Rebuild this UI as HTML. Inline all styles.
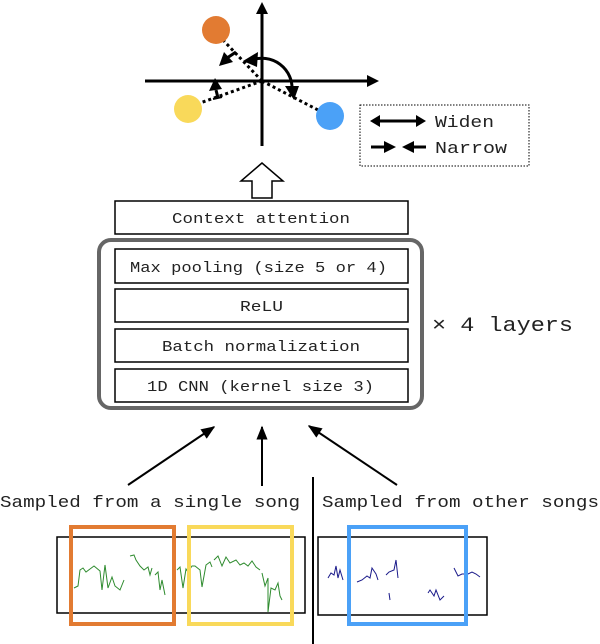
<!DOCTYPE html>
<html><head><meta charset="utf-8"><style>
html,body{margin:0;padding:0;background:#fff;}
svg{display:block;}
text{font-family:"Liberation Mono",monospace;fill:#222;}
</style></head><body>
<svg width="600" height="644" viewBox="0 0 600 644" xmlns="http://www.w3.org/2000/svg">
<defs>
<marker id="sm" viewBox="0 0 10 10" refX="9" refY="5" markerWidth="7" markerHeight="7" orient="auto"><path d="M0,1 L10,5 L0,9 z" fill="#000"/></marker>
</defs>
<line x1="262" y1="146" x2="262" y2="8" stroke="#000" stroke-width="3"/>
<path d="M262,2 L256,14 L268,14 z" fill="#000"/>
<line x1="145" y1="81" x2="372" y2="81" stroke="#000" stroke-width="3"/>
<path d="M379,81 L367,75 L367,87 z" fill="#000"/>
<g stroke="#000" stroke-width="3" stroke-dasharray="3,3">
<line x1="262" y1="81" x2="223" y2="40"/>
<line x1="262" y1="81" x2="200" y2="103"/>
<line x1="262" y1="81" x2="318" y2="110"/>
</g>
<circle cx="216" cy="30" r="14" fill="#e27b32"/>
<circle cx="188" cy="109" r="14" fill="#f9d95a"/>
<circle cx="330" cy="116" r="14" fill="#4ba1f7"/>
<path d="M252,60 A30,30 0 0 1 292,90" fill="none" stroke="#000" stroke-width="3"/>
<path d="M243,61 L258,52 L257,67 z" fill="#000"/>
<path d="M294,100 L285,86 L299,86 z" fill="#000"/>
<line x1="236" y1="52" x2="227" y2="58" stroke="#000" stroke-width="3"/>
<path d="M219,66 L224,52 L233,62 z" fill="#000"/>
<line x1="218" y1="98" x2="216" y2="90" stroke="#000" stroke-width="3"/>
<line x1="213" y1="99" x2="222" y2="97" stroke="#000" stroke-width="2"/>
<path d="M215,78 L209,91 L222,89 z" fill="#000"/>
<rect x="360" y="105" width="169" height="61" fill="none" stroke="#000" stroke-width="1" stroke-dasharray="1.5,1.5"/>
<line x1="378" y1="121" x2="418" y2="121" stroke="#000" stroke-width="3"/>
<path d="M370,121 L380,115 L380,127 z" fill="#000"/>
<path d="M426,121 L416,115 L416,127 z" fill="#000"/>
<text x="435" y="127" font-size="17" textLength="59" lengthAdjust="spacingAndGlyphs">Widen</text>
<line x1="371" y1="147" x2="385" y2="147" stroke="#000" stroke-width="3"/>
<path d="M396,147 L384,141 L384,153 z" fill="#000"/>
<line x1="412" y1="147" x2="426" y2="147" stroke="#000" stroke-width="3"/>
<path d="M402,147 L414,141 L414,153 z" fill="#000"/>
<text x="435" y="153" font-size="17" textLength="72" lengthAdjust="spacingAndGlyphs">Narrow</text>
<path d="M262,163 L241,181 L252,181 L252,198 L272,198 L272,181 L283,181 z" fill="#fff" stroke="#000" stroke-width="1.5"/>
<rect x="115" y="201" width="293" height="33" fill="#fff" stroke="#000" stroke-width="1.5"/>
<text x="172" y="223" font-size="15" textLength="178" lengthAdjust="spacingAndGlyphs">Context attention</text>
<rect x="99" y="240" width="323" height="168" rx="12" fill="none" stroke="#666" stroke-width="4"/>
<rect x="115" y="249" width="293" height="34" fill="#fff" stroke="#000" stroke-width="1.5"/>
<text x="130" y="272" font-size="15" textLength="257" lengthAdjust="spacingAndGlyphs">Max pooling (size 5 or 4)</text>
<rect x="115" y="289" width="293" height="33" fill="#fff" stroke="#000" stroke-width="1.5"/>
<text x="240" y="311" font-size="15" textLength="43" lengthAdjust="spacingAndGlyphs">ReLU</text>
<rect x="115" y="329" width="293" height="33" fill="#fff" stroke="#000" stroke-width="1.5"/>
<text x="162" y="351" font-size="15" textLength="198" lengthAdjust="spacingAndGlyphs">Batch normalization</text>
<rect x="115" y="369" width="293" height="33" fill="#fff" stroke="#000" stroke-width="1.5"/>
<text x="147" y="391" font-size="15" textLength="227" lengthAdjust="spacingAndGlyphs">1D CNN (kernel size 3)</text>
<text x="432" y="331" font-size="20" textLength="141" lengthAdjust="spacingAndGlyphs">× 4 layers</text>
<g stroke="#000" stroke-width="2">
<line x1="128" y1="485" x2="214" y2="427" marker-end="url(#sm)"/>
<line x1="262" y1="486" x2="262" y2="427" marker-end="url(#sm)"/>
<line x1="397" y1="485" x2="309" y2="426" marker-end="url(#sm)"/>
<line x1="313" y1="477" x2="313" y2="644"/>
</g>
<text x="0" y="507" font-size="17" textLength="300" lengthAdjust="spacingAndGlyphs">Sampled from a single song</text>
<text x="322" y="507" font-size="17" textLength="277" lengthAdjust="spacingAndGlyphs">Sampled from other songs</text>
<rect x="57" y="537" width="248" height="76" fill="#fff" stroke="#000" stroke-width="1.5"/>
<rect x="318" y="537" width="169" height="78" fill="#fff" stroke="#000" stroke-width="1.5"/>
<g fill="none" stroke="#2e8b2e" stroke-width="1">
<polyline points="74,588 78,586 80,570 83,568 86,572 90,569 94,566 100,571 102,590 105,565 108,588 112,577 115,586 120,590 124,580"/>
<polyline points="130,556 134,555 136,560 140,566 144,570 148,567 150,575 152,568"/>
<polyline points="155,575 158,572 160,590 162,580 165,595"/>
<polyline points="177,570 180,567 183,588 186,569 188,572 192,566 195,566 200,570 202,587 206,565 210,562 212,567"/>
<polyline points="214,560 218,556 222,566 226,557 230,563 236,560 240,565 244,563 248,566 252,561 256,567 260,570"/>
<polyline points="262,573 265,586 268,578 268,612 271,588 275,590 278,583 280,596 282,600"/>
</g>
<g fill="none" stroke="#1a1a8a" stroke-width="1">
<polyline points="328,578 331,573 334,575 336,566 338,578 340,570 343,580"/>
<polyline points="357,582 362,580 367,576 370,578 372,568 376,574 378,580"/>
<polyline points="386,575 389,572 394,570 396,560 398,578"/>
<polyline points="389,593 390,600"/>
<polyline points="428,593 430,590 434,596 436,590 440,600 444,596"/>
<polyline points="454,568 458,576 462,574 468,574 472,572 476,574 480,577"/>
</g>
<rect x="71" y="527" width="103" height="97" fill="none" stroke="#e27b32" stroke-width="4"/>
<rect x="189" y="527" width="103" height="97" fill="none" stroke="#f9d95a" stroke-width="4"/>
<rect x="349" y="527" width="117" height="97" fill="none" stroke="#4ba1f7" stroke-width="4"/>
</svg>
</body></html>
